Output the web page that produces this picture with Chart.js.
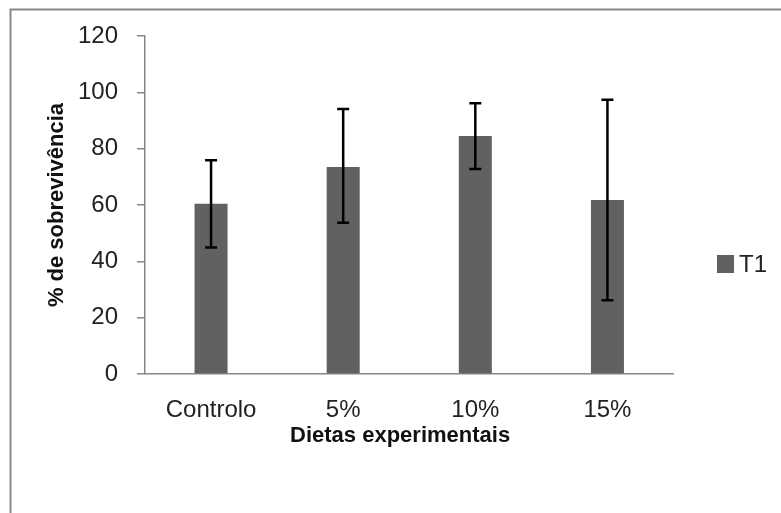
<!DOCTYPE html>
<html>
<head>
<meta charset="utf-8">
<script src="https://cdn.jsdelivr.net/npm/chart.js@4.4.1/dist/chart.umd.min.js"></script>
<style>
  html, body { margin: 0; padding: 0; background: #fff; }
  #wrap { width: 781px; height: 513px; }
</style>
</head>
<body>
<div id="wrap"><canvas id="grafico"></canvas></div>
<script>
// dados
const dietas = ['Controlo', '5%', '10%', '15%'];
const sobrevivencia = [60.4, 73.5, 84.5, 61.8];
const erroMin = [44.9, 53.7, 72.8, 26.2];
const erroMax = [75.9, 94.1, 96.1, 97.4];
const ticksY = [0, 20, 40, 60, 80, 100, 120];

const corEixo = '#878787';
const corBarra = '#616161';
const fonte = 'Liberation Sans, Arial, sans-serif';

// moldura cinzenta (cortada à direita e em baixo)
const moldura = {
    id: 'moldura',
    beforeDraw(chart) {
        const ctx = chart.ctx;
        ctx.save();
        ctx.strokeStyle = corEixo;
        ctx.lineWidth = 2;
        ctx.strokeRect(10.5, 9.5, 900, 700);
        ctx.restore();
    }
};

// barras de erro desenhadas com as escalas do gráfico
const barrasErro = {
    id: 'barrasErro',
    afterDatasetsDraw(chart) {
        const ctx = chart.ctx;
        const y = chart.scales.y;
        const meta = chart.getDatasetMeta(0);
        ctx.save();
        ctx.strokeStyle = '#000';
        ctx.lineWidth = 2.5;
        meta.data.forEach((bar, i) => {
            const x = bar.x;
            const y1 = y.getPixelForValue(erroMax[i]);
            const y2 = y.getPixelForValue(erroMin[i]);
            ctx.beginPath();
            ctx.moveTo(x, y1); ctx.lineTo(x, y2);
            ctx.moveTo(x - 6, y1); ctx.lineTo(x + 6, y1);
            ctx.moveTo(x - 6, y2); ctx.lineTo(x + 6, y2);
            ctx.stroke();
        });
        ctx.restore();
    }
};

// legenda simples à direita
const legenda = {
    id: 'legenda',
    afterDraw(chart) {
        const ctx = chart.ctx;
        const ds = chart.data.datasets[0];
        ctx.save();
        ctx.fillStyle = ds.backgroundColor;
        ctx.fillRect(717, 255, 17, 18);
        ctx.fillStyle = '#222';
        ctx.font = '24px ' + fonte;
        ctx.textBaseline = 'middle';
        ctx.fillText(ds.label, 739, 265);
        ctx.restore();
    }
};

new Chart(document.getElementById('grafico'), {
    type: 'bar',
    data: {
        labels: dietas,
        datasets: [{
            label: 'T1',
            data: sobrevivencia,
            backgroundColor: corBarra,
            borderWidth: 0,
            categoryPercentage: 1,
            barPercentage: 0.25
        }]
    },
    options: {
        responsive: true,
        maintainAspectRatio: false,
        animation: false,
        events: [],
        layout: { padding: { top: 36, bottom: 21, left: 0, right: 107.5 } },
        plugins: {
            legend: { display: false },
            tooltip: { enabled: false }
        },
        scales: {
            x: {
                afterFit(scale) { scale.height = 118; },
                grid: { display: false, drawTicks: false },
                border: { display: true, color: corEixo, width: 1.5 },
                ticks: { color: '#222', font: { family: fonte, size: 24 }, padding: 22 },
                title: {
                    display: true,
                    text: 'Dietas experimentais   ',
                    color: '#111',
                    font: { family: fonte, size: 22, weight: 'bold' },
                    padding: { top: 0, bottom: 43 }
                }
            },
            y: {
                min: 0,
                max: 120,
                afterFit(scale) { scale.width = 145; },
                afterBuildTicks(scale) { scale.ticks = ticksY.map(v => ({ value: v })); },
                grid: { drawOnChartArea: false, drawTicks: true, tickLength: 8, color: corEixo, lineWidth: 1.5 },
                border: { display: true, color: corEixo, width: 1.5 },
                ticks: { color: '#222', font: { family: fonte, size: 24 }, padding: 19 },
                title: {
                    display: true,
                    text: '% de sobrevivência',
                    color: '#111',
                    font: { family: fonte, size: 22, weight: 'bold' },
                    padding: { top: 43.8, bottom: 0 }
                }
            }
        }
    },
    plugins: [moldura, barrasErro, legenda]
});
</script>
</body>
</html>
